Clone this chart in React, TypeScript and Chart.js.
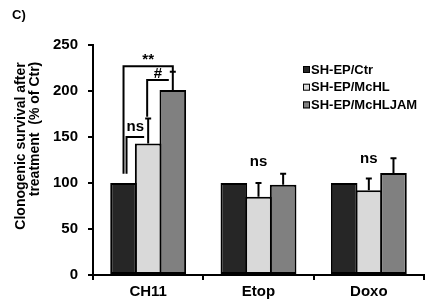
import React, { useEffect, useRef } from 'react';
import { Chart, registerables } from 'chart.js';

Chart.register(...registerables);

// ---------------- data ----------------
const categories = ['CH11', 'Etop', 'Doxo'];
const seriesLabels = ['SH-EP/Ctr', 'SH-EP/McHL', 'SH-EP/McHLJAM'];
const ctrValues = [100, 100, 100];
const ctrErrors = [0, 0, 0];
const mchlValues = [143, 85, 92];
const mchlErrors = [27, 15, 13];
const jamValues = [201, 98, 111];
const jamErrors = [20, 12, 16];
const yTicks = [0, 50, 100, 150, 200, 250];
const yTitleLines = ['Clonogenic survival after', 'treatment  (% of Ctr)'];
const panelLabel = 'C)';

// significance brackets (within a category, between two series)
const bracketLabels = ['**', '#', 'ns'];
const bracketCategory = [0, 0, 0];
const bracketFrom = [0, 1, 0];
const bracketTo = [2, 2, 1];
const bracketLevel = [227, 212, 150];
const bracketLeftDrop = [110, 172, 110];
const bracketRightDrop = [221, 212, 150];

// group-level labels
const groupLabels = ['ns', 'ns'];
const groupLabelCategory = [1, 2];
const groupLabelLevel = [119, 122];

// ---------------- styles ----------------
const FONT = '"Liberation Sans", Arial, sans-serif';
const seriesColors = ['#262626', '#d9d9d9', '#808080'];
const bracketXOffsets = [
  [0, 0],
  [-1, -4],
  [3, -4],
];

const allValues = [ctrValues, mchlValues, jamValues];
const allErrors = [ctrErrors, mchlErrors, jamErrors];

const decorPlugin = {
  id: 'decor',
  afterDatasetsDraw(chart: any) {
    const ctx = chart.ctx;
    const y = chart.scales.y;
    ctx.save();
    ctx.strokeStyle = '#000';
    ctx.fillStyle = '#000';
    ctx.lineWidth = 2;
    // error bars (upper only)
    allValues.forEach((vals, di) => {
      const meta = chart.getDatasetMeta(di);
      vals.forEach((v, j) => {
        const e = allErrors[di][j];
        if (!e) return;
        const x = meta.data[j].x;
        const y0 = y.getPixelForValue(v);
        const y1 = y.getPixelForValue(v + e);
        ctx.beginPath();
        ctx.moveTo(x, y0);
        ctx.lineTo(x, y1);
        ctx.moveTo(x - 3, y1);
        ctx.lineTo(x + 3, y1);
        ctx.stroke();
      });
    });
    // brackets
    ctx.font = `bold 15px ${FONT}`;
    ctx.textAlign = 'center';
    ctx.textBaseline = 'alphabetic';
    bracketLabels.forEach((lab, k) => {
      const c = bracketCategory[k];
      const xl = chart.getDatasetMeta(bracketFrom[k]).data[c].x + bracketXOffsets[k][0];
      const xr = chart.getDatasetMeta(bracketTo[k]).data[c].x + bracketXOffsets[k][1];
      const yl = y.getPixelForValue(bracketLevel[k]);
      const yld = y.getPixelForValue(bracketLeftDrop[k]);
      const yrd = y.getPixelForValue(bracketRightDrop[k]);
      ctx.beginPath();
      ctx.moveTo(xl, yld);
      ctx.lineTo(xl, yl);
      ctx.lineTo(xr, yl);
      ctx.lineTo(xr, yrd);
      ctx.stroke();
      const gap = lab === 'ns' ? 6 : 2;
      ctx.fillText(lab, (xl + xr) / 2, yl - gap);
    });
    // group labels
    groupLabels.forEach((lab, k) => {
      const x = chart.scales.x.getPixelForValue(groupLabelCategory[k]);
      ctx.fillText(lab, x, y.getPixelForValue(groupLabelLevel[k]));
    });
    ctx.restore();
  },
  afterDraw(chart: any) {
    const ctx = chart.ctx;
    ctx.save();
    // legend
    ctx.font = `bold 13px ${FONT}`;
    ctx.textAlign = 'left';
    ctx.textBaseline = 'middle';
    seriesLabels.forEach((lab, i) => {
      const cy = 69.5 + i * 17.7;
      ctx.fillStyle = seriesColors[i];
      ctx.fillRect(303, cy - 3.5, 7, 7);
      ctx.strokeStyle = '#000';
      ctx.lineWidth = 1;
      ctx.strokeRect(303.5, cy - 3, 6, 6);
      ctx.fillStyle = '#000';
      ctx.fillText(lab, 311, cy + 0.5);
    });
    // y title
    ctx.font = `bold 14px ${FONT}`;
    ctx.textAlign = 'center';
    ctx.textBaseline = 'middle';
    const titlePos = [
      [21, 146],
      [35, 129],
    ];
    yTitleLines.forEach((line, i) => {
      ctx.save();
      ctx.translate(titlePos[i][0], titlePos[i][1]);
      ctx.rotate(-Math.PI / 2);
      ctx.fillText(line, 0, 0);
      ctx.restore();
    });
    // panel label
    ctx.font = `bold 13px ${FONT}`;
    ctx.textAlign = 'left';
    ctx.fillText(panelLabel, 12, 15);
    ctx.restore();
  },
};

export default function App() {
  const ref = useRef<HTMLCanvasElement | null>(null);
  useEffect(() => {
    if (!ref.current) return;
    const tickFont = { family: FONT, size: 15, weight: 'bold' as const };
    const chart = new Chart(ref.current, {
      type: 'bar',
      data: {
        labels: categories,
        datasets: allValues.map((vals, i) => ({
          label: seriesLabels[i],
          data: vals,
          backgroundColor: seriesColors[i],
          borderColor: '#000',
          borderWidth: 2,
          borderSkipped: false,
          categoryPercentage: 0.67,
          barPercentage: 1.08,
        })),
      },
      options: {
        responsive: false,
        animation: false,
        devicePixelRatio: 1,
        layout: { padding: { top: 45, right: 2, left: 0, bottom: 0 } },
        plugins: { legend: { display: false }, tooltip: { enabled: false } },
        scales: {
          x: {
            offset: true,
            grid: {
              display: true,
              offset: true,
              drawOnChartArea: false,
              tickLength: 5,
              color: '#000',
              lineWidth: 2,
            },
            border: { color: '#000', width: 2 },
            ticks: { color: '#000', font: tickFont, padding: 3 },
            afterFit: (s: any) => {
              s.height = 28;
            },
          },
          y: {
            min: 0,
            max: 250,
            afterBuildTicks: (s: any) => {
              s.ticks = yTicks.map((v) => ({ value: v }));
            },
            grid: {
              display: true,
              drawOnChartArea: false,
              tickLength: 5,
              color: '#000',
              lineWidth: 2,
            },
            border: { color: '#000', width: 2 },
            ticks: { color: '#000', font: tickFont, padding: 10 },
            afterFit: (s: any) => {
              s.width = 93;
            },
          },
        },
      },
      plugins: [decorPlugin],
    });
    return () => chart.destroy();
  }, []);
  return (
    <div style={{ position: 'absolute', left: 0, top: 0, width: 426, height: 303, background: '#fff' }}>
      <canvas ref={ref} width={426} height={303} style={{ display: 'block' }} />
    </div>
  );
}
